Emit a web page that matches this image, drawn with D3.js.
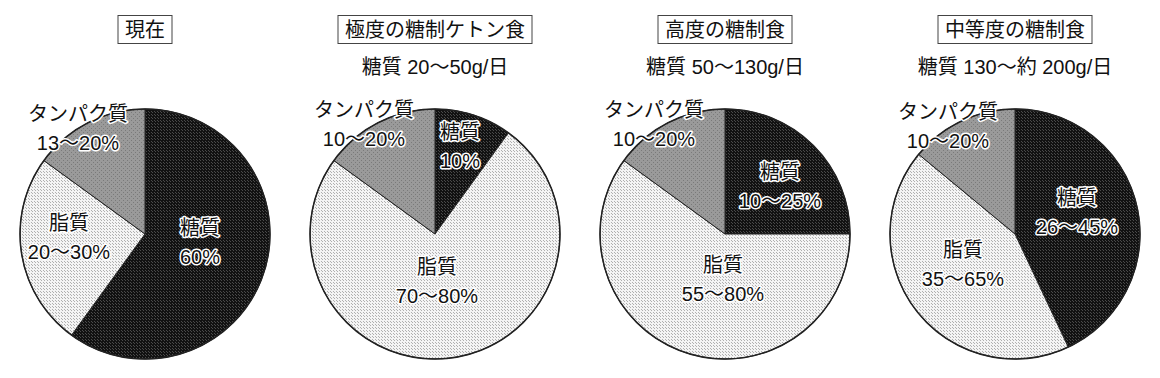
<!DOCTYPE html>
<html>
<head>
<meta charset="utf-8">
<script src="https://cdn.jsdelivr.net/npm/d3@7"></script>
<style>
  body { margin: 0; background: #fff; }
  text { font-family: "Liberation Sans", "Noto Sans CJK JP", sans-serif; }
</style>
</head>
<body>
<div id="chart"></div>
<script>
// data
var nutrients = ["糖質", "脂質", "タンパク質"];
var titles = ["現在", "極度の糖制ケトン食", "高度の糖制食", "中等度の糖制食"];
var subtitles = ["", "糖質 20〜50g/日", "糖質 50〜130g/日", "糖質 130〜約 200g/日"];
var shareNow = [60, 25, 15];
var shareKeto = [10, 75, 15];
var shareHigh = [25, 60, 15];
var shareModerate = [43, 43, 14];
var rangeNow = ["60%", "20〜30%", "13〜20%"];
var rangeKeto = ["10%", "70〜80%", "10〜20%"];
var rangeHigh = ["10〜25%", "55〜80%", "10〜20%"];
var rangeModerate = ["26〜45%", "35〜65%", "10〜20%"];

var shares = [shareNow, shareKeto, shareHigh, shareModerate];
var ranges = [rangeNow, rangeKeto, rangeHigh, rangeModerate];

// label block offsets from pie centre (hand tuned)
var labelOffsets = [
  [[55, 8], [-76, 3], [-67, -106]],
  [[25, -88], [2, 47], [-71, -110]],
  [[55, -48], [-2, 45], [-71, -110]],
  [[62, -22], [-52, 30], [-67, -108]]
];

var svgWidth = 1160;
var svgHeight = 378;
var colWidth = 290;
var radius = 125;
var centerY = 234;

var svg = d3.select("#chart")
  .append("svg")
  .attr("width", svgWidth)
  .attr("height", svgHeight);

// halftone-ish fills
var defs = svg.append("defs");
function dotPattern(id, base, dot, size) {
  var p = defs.append("pattern")
    .attr("id", id)
    .attr("width", size)
    .attr("height", size)
    .attr("patternUnits", "userSpaceOnUse");
  p.append("rect").attr("width", size).attr("height", size).attr("fill", base);
  p.append("rect").attr("x", 0).attr("y", 0).attr("width", 1).attr("height", 1).attr("fill", dot);
  p.append("rect").attr("x", Math.floor(size / 2)).attr("y", Math.floor(size / 2)).attr("width", 1).attr("height", 1).attr("fill", dot);
  return "url(#" + id + ")";
}
var fills = d3.scaleOrdinal()
  .domain(nutrients)
  .range([
    dotPattern("dark", "#121212", "#4a4a4a", 3),
    dotPattern("light", "#f4f4f4", "#b0b0b0", 3),
    dotPattern("mid", "#9a9a9a", "#7a7a7a", 4)
  ]);

var pie = d3.pie().sort(null).value(function(d) { return d.value; });
var arc = d3.arc().innerRadius(0).outerRadius(radius);

shares.forEach(function(vals, i) {
  var cx = colWidth / 2 + i * colWidth;
  var g = svg.append("g").attr("transform", `translate(${cx}, 0)`);

  // boxed title
  var title = g.append("text")
    .attr("x", 0)
    .attr("y", 30)
    .attr("text-anchor", "middle")
    .attr("dominant-baseline", "central")
    .style("font-size", "20px")
    .attr("fill", "#111")
    .text(titles[i]);
  var bb = title.node().getBBox();
  g.insert("rect", "text")
    .attr("x", bb.x - 7)
    .attr("y", 15.5)
    .attr("width", bb.width + 14)
    .attr("height", 28)
    .attr("fill", "none")
    .attr("stroke", "#444")
    .attr("stroke-width", 1);

  if (subtitles[i]) {
    g.append("text")
      .attr("x", 0)
      .attr("y", 67)
      .attr("text-anchor", "middle")
      .attr("dominant-baseline", "central")
      .style("font-size", "20px")
      .attr("fill", "#111")
      .text(subtitles[i]);
  }

  var rows = nutrients.map(function(n, k) {
    return { name: n, value: vals[k], range: ranges[i][k], off: labelOffsets[i][k] };
  });

  var pieG = g.append("g").attr("transform", `translate(0, ${centerY})`);
  pieG.selectAll("path")
    .data(pie(rows))
    .enter()
    .append("path")
    .attr("d", arc)
    .attr("fill", function(d) { return fills(d.data.name); })
    .attr("stroke", "#222")
    .attr("stroke-width", 1);
  pieG.append("circle")
    .attr("r", radius)
    .attr("fill", "none")
    .attr("stroke", "#222")
    .attr("stroke-width", 1.5);

  var labels = pieG.selectAll("g.lab")
    .data(rows)
    .enter()
    .append("g")
    .attr("class", "lab")
    .attr("transform", function(d) { return `translate(${d.off[0]}, ${d.off[1]})`; });
  labels.append("text")
    .attr("y", -14)
    .text(function(d) { return d.name; });
  labels.append("text")
    .attr("y", 15)
    .text(function(d) { return d.range; });
  labels.selectAll("text")
    .attr("text-anchor", "middle")
    .attr("dominant-baseline", "central")
    .style("font-size", "20px")
    .attr("fill", "#111")
    .attr("stroke", "#fff")
    .attr("stroke-width", 3)
    .attr("stroke-linejoin", "round")
    .style("paint-order", "stroke");
});
</script>
</body>
</html>
